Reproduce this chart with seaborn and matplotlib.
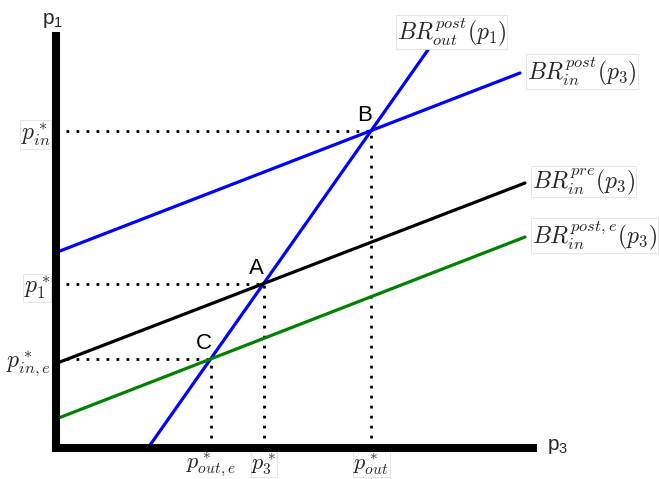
import numpy as np
import pandas as pd
import matplotlib
matplotlib.use("Agg")
import matplotlib.pyplot as plt
import seaborn as sns

# ---- data (diagram units) ----
curves = ["out_post", "in_post", "in_pre", "in_post_e"]
curve_x0 = [92, 0, 0, 0]
curve_y0 = [0, 195.5, 84.5, 29]
curve_x1 = [374, 464, 469, 469]
curve_y1 = [401, 375, 265, 211]
curve_labels = [r"$BR^{post}_{out}(p_1)$", r"$BR^{post}_{in}(p_3)$",
                r"$BR^{pre}_{in}(p_3)$", r"$BR^{post,e}_{in}(p_3)$"]
curve_colors = ["#0000ff", "#0000ff", "#000000", "#008000"]

point_names = ["B", "A", "C"]
point_pairs = [(0, 1), (0, 2), (0, 3)]
ytick_labels = [r"$p^*_{in}$", r"$p^*_1$", r"$p^*_{in,e}$"]
xtick_labels = [r"$p^*_{out}$", r"$p^*_3$", r"$p^*_{out,e}$"]
boxed_ticks = [True, True, False]
xaxis_label = r"$\mathregular{p_3}$"
yaxis_label = r"$\mathregular{p_1}$"

sns.set_theme(style="white")
plt.rcParams["font.family"] = ["Liberation Sans", "DejaVu Sans"]
plt.rcParams["mathtext.fontset"] = "cm"

df = pd.DataFrame({
    "curve": np.repeat(curves, 2),
    "x": np.ravel(np.column_stack([curve_x0, curve_x1])),
    "y": np.ravel(np.column_stack([curve_y0, curve_y1])),
})

fig = plt.figure(figsize=(6.6, 4.79), dpi=100)
W, H = 660, 479
ax = fig.add_axes([56 / W, (H - 448) / H, (533 - 56) / W, (448 - 36) / H])

sns.lineplot(data=df, x="x", y="y", hue="curve", hue_order=curves,
             palette=dict(zip(curves, curve_colors)), estimator=None,
             sort=False, legend=False, linewidth=2.3, ax=ax, zorder=2)

ax.set_xlim(0, 477)
ax.set_ylim(0, 412)


def coef(i):
    m = (curve_y1[i] - curve_y0[i]) / (curve_x1[i] - curve_x0[i])
    return m, curve_y0[i] - m * curve_x0[i]


px, py = [], []
for name, (i, j) in zip(point_names, point_pairs):
    m1, b1 = coef(i)
    m2, b2 = coef(j)
    xi = (b2 - b1) / (m1 - m2)
    yi = m1 * xi + b1
    px.append(xi)
    py.append(yi)
    ax.plot([0, xi], [yi, yi], color="black", linestyle=(0, (1, 2.6)),
            linewidth=2.0, zorder=1.5)
    ax.plot([xi, xi], [0, yi], color="black", linestyle=(0, (1, 2.6)),
            linewidth=2.0, zorder=1.5)
    ax.annotate(name, xy=(xi, yi), xytext=(-5, 11), textcoords="offset points",
                ha="center", va="center", fontsize=16, color="black")

box = dict(facecolor="white", edgecolor="#e2e2e2", lw=0.6, pad=0.5)

# curve labels
for k in range(len(curves)):
    if k == 0:
        off = (-24, 11)
    else:
        off = (5, 1)
    ax.annotate(curve_labels[k], xy=(curve_x1[k], curve_y1[k]), xytext=off,
                textcoords="offset points", ha="left", va="center", fontsize=17,
                annotation_clip=False, bbox=box)

ax.set_yticks(py)
ax.set_yticklabels(ytick_labels, fontsize=17)
ax.set_xticks(px)
ax.set_xticklabels(xtick_labels, fontsize=16)
for lab, b in zip(ax.get_yticklabels(), boxed_ticks):
    if b:
        lab.set_bbox(box)
for lab, b in zip(ax.get_xticklabels(), boxed_ticks):
    if b:
        lab.set_bbox(box)
ax.tick_params(axis="both", length=0)
ax.tick_params(axis="y", pad=4)
ax.tick_params(axis="x", pad=2)

for s in ["top", "right"]:
    ax.spines[s].set_visible(False)
for s in ["left", "bottom"]:
    ax.spines[s].set_linewidth(5.8)
    ax.spines[s].set_color("black")
    ax.spines[s].set_capstyle("projecting")
    ax.spines[s].set_zorder(3)

ax.set_xlabel("")
ax.set_ylabel("")
fig.text(53 / W, 1 - 20 / H, yaxis_label, ha="center", va="center", fontsize=15)
fig.text(558 / W, 1 - 446 / H, xaxis_label, ha="center", va="center", fontsize=15)

fig.savefig("out.png", dpi=100)
